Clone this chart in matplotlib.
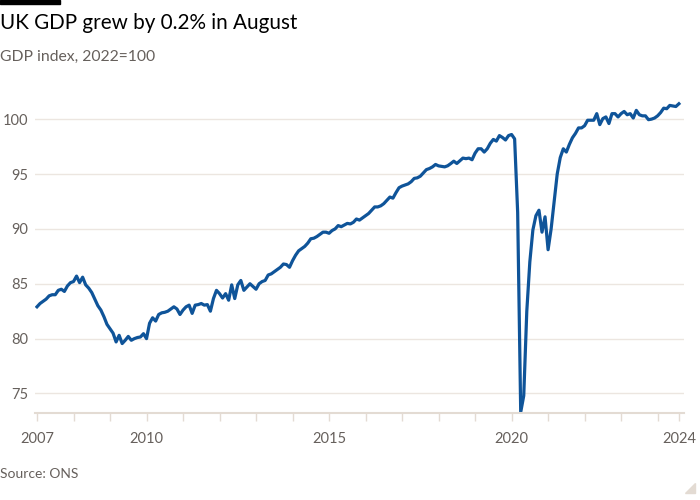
import matplotlib
matplotlib.use("Agg")
import matplotlib.pyplot as plt
from matplotlib.patches import Rectangle, Polygon
import numpy as np

# monthly UK GDP index (2022=100), Jan 2007 - Aug 2024
gdp_2007 = [82.9, 83.2, 83.4, 83.6, 83.9, 84.0, 84.0, 84.4, 84.5, 84.3, 84.8, 85.1]
gdp_2008 = [85.2, 85.7, 85.1, 85.6, 84.9, 84.6, 84.2, 83.6, 83.0, 82.6, 82.0, 81.3]
gdp_2009 = [80.9, 80.5, 79.7, 80.3, 79.55, 79.85, 80.2, 79.85, 80.0, 80.1, 80.15, 80.45]
gdp_2010 = [80.0, 81.4, 81.9, 81.6, 82.2, 82.35, 82.4, 82.5, 82.7, 82.9, 82.7, 82.2]
gdp_2011 = [82.6, 82.9, 83.05, 82.3, 83.05, 83.1, 83.2, 83.05, 83.1, 82.5, 83.65, 84.4]
gdp_2012 = [84.1, 83.7, 84.1, 83.5, 84.9, 83.65, 84.9, 85.3, 84.4, 84.7, 85.0, 84.75]
gdp_2013 = [84.5, 85.0, 85.2, 85.3, 85.8, 85.9, 86.1, 86.3, 86.5, 86.8, 86.75, 86.5]
gdp_2014 = [87.1, 87.6, 88.0, 88.2, 88.4, 88.7, 89.1, 89.15, 89.3, 89.5, 89.7, 89.7]
gdp_2015 = [89.6, 89.85, 90.0, 90.3, 90.2, 90.35, 90.5, 90.45, 90.6, 90.9, 90.8, 91.0]
gdp_2016 = [91.2, 91.4, 91.7, 92.0, 92.0, 92.1, 92.3, 92.6, 92.9, 92.8, 93.3, 93.75]
gdp_2017 = [93.9, 94.0, 94.1, 94.3, 94.6, 94.65, 94.8, 95.1, 95.4, 95.5, 95.65, 95.87]
gdp_2018 = [95.74, 95.7, 95.65, 95.75, 95.95, 96.17, 95.96, 96.2, 96.45, 96.4, 96.45, 96.3]
gdp_2019 = [96.9, 97.3, 97.3, 97.0, 97.3, 97.8, 98.15, 98.0, 98.5, 98.33, 98.1, 98.5]
gdp_2020 = [98.6, 98.2, 91.5, 73.3, 74.8, 82.5, 87.0, 89.9, 91.2, 91.7, 89.7, 91.1]
gdp_2021 = [88.1, 90.0, 92.5, 95.0, 96.5, 97.3, 97.0, 97.7, 98.3, 98.7, 99.2, 99.2]
gdp_2022 = [99.4, 99.9, 99.9, 99.9, 100.5, 99.5, 100.05, 100.2, 99.6, 100.5, 100.5, 100.2]
gdp_2023 = [100.5, 100.7, 100.4, 100.5, 100.1, 100.8, 100.4, 100.3, 100.3, 99.95, 100.0, 100.1]
gdp_2024 = [100.3, 100.6, 101.0, 100.95, 101.25, 101.2, 101.15, 101.4]

gdp = (gdp_2007 + gdp_2008 + gdp_2009 + gdp_2010 + gdp_2011 + gdp_2012 +
       gdp_2013 + gdp_2014 + gdp_2015 + gdp_2016 + gdp_2017 + gdp_2018 +
       gdp_2019 + gdp_2020 + gdp_2021 + gdp_2022 + gdp_2023 + gdp_2024)
months = 2007 + np.arange(len(gdp)) / 12

year_ticks = list(range(2007, 2025))
label_years = [2007, 2010, 2015, 2020]
y_ticks = [75, 80, 85, 90, 95, 100]

plt.rcParams['font.family'] = ['Lato', 'DejaVu Sans']

fig = plt.figure(figsize=(7, 5), dpi=100)
fig.patch.set_facecolor('white')
ax = fig.add_axes([0.05, 0.1746, 0.927, 0.642])

ax.plot(months, gdp, color='#0f5499', lw=2.3, solid_joinstyle='round')

ax.set_xlim(2007 - 2 / 36.5, months[-1] + 5 / 36.5)
ax.set_ylim(73.25, 102.5)

# y axis: gridlines only
ax.set_yticks(y_ticks)
ax.set_yticklabels([str(v) for v in y_ticks])
ax.yaxis.grid(True, color='#ece6e0', lw=1)
ax.tick_params(axis='y', length=0, pad=5, labelsize=10.5, labelcolor='#66605c')

# x axis: a tick per year, labels on a few, last one at the latest month
xt = year_ticks + [months[-1]]
xl = [str(y) if y in label_years else '' for y in year_ticks] + ['2024']
ax.set_xticks(xt)
ax.set_xticklabels(xl)
ax.tick_params(axis='x', length=6, width=1, color='#e3dbd3', pad=8,
               labelsize=10.5, labelcolor='#66605c')

for s in ['top', 'right', 'left']:
    ax.spines[s].set_visible(False)
ax.spines['bottom'].set_color('#e3dbd3')
ax.spines['bottom'].set_linewidth(1.5)
ax.set_axisbelow(True)

# header / footer
fig.patches.append(Rectangle((0, 1 - 4 / 500), 60 / 700, 4 / 500, transform=fig.transFigure,
                             color='black', zorder=5))
fig.text(0.0, 1 - 23 / 500, 'UK GDP grew by 0.2% in August', fontsize=14.9,
         color='#000000', va='center', ha='left')
fig.text(0.0, 1 - 57 / 500, 'GDP index, 2022=100', fontsize=11.3, color='#66605c',
         va='center', ha='left')
fig.text(0.0, 1 - 474 / 500, 'Source: ONS', fontsize=10, color='#66605c',
         va='center', ha='left')
fig.patches.append(Polygon([(685 / 700, 1 - 493 / 500), (695 / 700, 1 - 493 / 500),
                            (695 / 700, 1 - 483 / 500)], closed=True,
                           transform=fig.transFigure, color='#e3dbd3'))

plt.savefig('out.png', dpi=100, facecolor='white')
